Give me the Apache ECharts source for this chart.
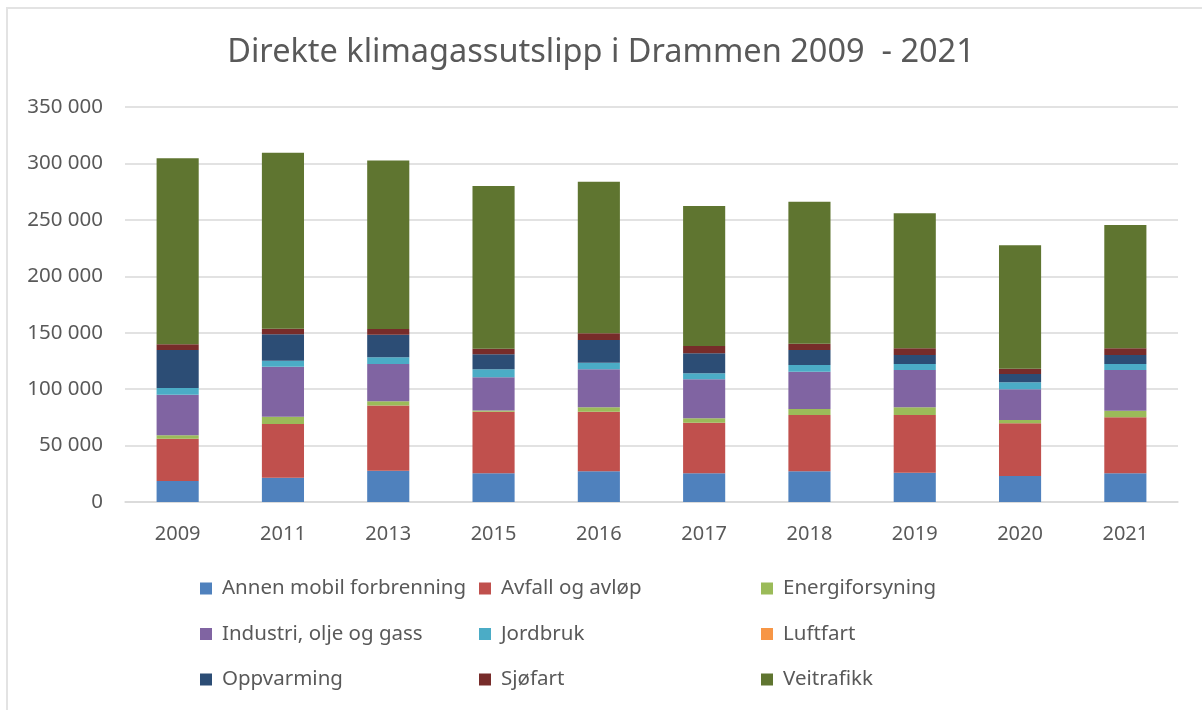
<!DOCTYPE html>
<html>
<head>
    <meta charset="utf-8">
    <script src="https://cdn.jsdelivr.net/npm/echarts@6/dist/echarts.min.js"></script>
    <style>
    html, body {
      margin: 0;
      padding: 0;
      background: #fff;
    }
    #frame {
      position: absolute;
      left: 6px;
      top: 7px;
      right: 0;
      bottom: 0;
      border-top: 2px solid #e3e3e3;
      border-left: 2px solid #e3e3e3;
    }
    #main {
      position: absolute;
      left: 0;
      top: 0;
      width: 1202px;
      height: 710px;
    }
    </style>
    <title>Direkte klimagassutslipp i Drammen</title>
</head>
<body>
    <div id="frame"></div>
    <div id="main"></div>
    <script type="text/javascript">

        var years = ['2009', '2011', '2013', '2015', '2016', '2017', '2018', '2019', '2020', '2021'];

        // tonn CO2-ekvivalenter, lest av figuren
        var annenMobil  = [18600, 21500, 27800, 25400, 27200, 25400, 27200, 26000, 23000, 25400];
        var avfall      = [37500, 47600, 57800, 54600, 52800, 44900, 49900, 51100, 46700, 49600];
        var energi      = [3000, 6500, 3600, 1000, 3900, 3900, 5300, 6800, 3000, 5900];
        var industri    = [36000, 44300, 33100, 29600, 33700, 34500, 33100, 33100, 27100, 36100];
        var jordbruk    = [5900, 5300, 5900, 7100, 5800, 5300, 5900, 5300, 6200, 5300];
        var luftfart    = [0, 0, 0, 0, 0, 0, 0, 0, 0, 0];
        var oppvarming  = [33700, 23400, 20000, 13300, 20100, 17700, 13300, 7900, 7400, 7900];
        var sjofart     = [5000, 5000, 5100, 4900, 6000, 6500, 5600, 6000, 4700, 6000];
        var veitrafikk  = [164800, 155900, 149400, 144200, 134300, 124100, 125800, 119600, 109300, 109200];

        var names = ['Annen mobil forbrenning', 'Avfall og avløp', 'Energiforsyning',
                     'Industri, olje og gass', 'Jordbruk', 'Luftfart',
                     'Oppvarming', 'Sjøfart', 'Veitrafikk'];
        var values = [annenMobil, avfall, energi, industri, jordbruk, luftfart, oppvarming, sjofart, veitrafikk];
        var colors = ['#4F81BD', '#C0504D', '#9BBB59', '#8064A2', '#4BACC6', '#F79646', '#2C4D75', '#772C2A', '#5F7530'];

        var font = 'Noto Sans';
        var grey = '#595959';

        var series = names.map(function (n, i) {
            return {
                name: n,
                type: 'bar',
                stack: 'total',
                barWidth: '40%',
                itemStyle: { color: colors[i] },
                data: values[i]
            };
        });

        function legendCol(left, items) {
            return {
                orient: 'vertical',
                left: left,
                top: 573,
                itemWidth: 12,
                itemHeight: 12,
                itemGap: 24.5,
                icon: 'rect',
                textStyle: { fontFamily: font, fontSize: 20.5, color: grey, padding: [0, 0, 0, 5] },
                data: items
            };
        }

        var myChart = echarts.init(document.getElementById('main'));

        option = {
            animation: false,
            color: colors,
            title: {
                text: 'Direkte klimagassutslipp i Drammen 2009  - 2021',
                left: 'center',
                top: 31,
                textStyle: { fontFamily: font, fontSize: 32.5, fontWeight: 'normal', color: grey }
            },
            legend: [
                legendCol(195, [names[0], names[3], names[6]]),
                legendCol(474, [names[1], names[4], names[7]]),
                legendCol(756, [names[2], names[5], names[8]])
            ],
            grid: {
                left: 125,
                right: 24,
                top: 107,
                bottom: 208
            },
            xAxis: {
                type: 'category',
                data: years,
                axisTick: { show: false },
                axisLine: { lineStyle: { color: '#d9d9d9', width: 1.5 } },
                axisLabel: { fontFamily: font, fontSize: 20, color: grey, margin: 22 }
            },
            yAxis: {
                type: 'value',
                min: 0,
                max: 350000,
                interval: 50000,
                axisLine: { show: false },
                axisTick: { show: false },
                splitLine: { lineStyle: { color: '#d9d9d9', width: 1.5 } },
                axisLabel: {
                    fontFamily: font, fontSize: 20.5, color: grey, margin: 22,
                    formatter: function (v) {
                        return String(v).replace(/\B(?=(\d{3})+(?!\d))/g, ' ');
                    }
                }
            },
            series: series
        };
        myChart.setOption(option);

    </script>
</body>
</html>
